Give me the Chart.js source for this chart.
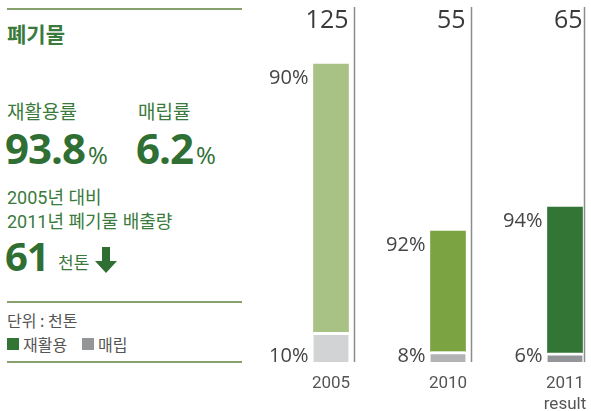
<!DOCTYPE html>
<html>
<head>
<meta charset="utf-8">
<script src="https://cdn.jsdelivr.net/npm/chart.js@4.4.0/dist/chart.umd.min.js"></script>
<style>
  body { margin: 0; width: 591px; height: 411px; background: #fff; position: relative; overflow: hidden;
         font-family: Roboto, "Noto Sans CJK KR", sans-serif; }
  .abs { position: absolute; white-space: nowrap; }
  .rule { position: absolute; left: 7px; width: 235px; height: 2px; background: #86a06e; }
  .kr { font-family: "Noto Sans CJK KR", sans-serif; }
  .green { color: #3a7a3c; }
  .big { font-family: "Open Sans", sans-serif; font-weight: 700; font-size: 42px; line-height: 42px; color: #2f6f34; letter-spacing: -1px; }
  .big span { font-weight: 400; font-size: 24px; letter-spacing: 0; margin-left: 3px; }
  #wrap { position: absolute; left: 240px; top: 0; width: 351px; height: 411px; }
</style>
</head>
<body>
<div class="rule" style="top:8px"></div>
<div class="abs kr green" style="left:7px;top:18px;font-size:21px;font-weight:700;">폐기물</div>
<div class="abs kr green" style="left:7px;top:100px;font-size:19px;line-height:22px;">재활용률</div>
<div class="abs kr green" style="left:138px;top:100px;font-size:19px;line-height:22px;">매립률</div>
<div class="abs big" style="left:5px;top:127px;">93.8<span>%</span></div>
<div class="abs big" style="left:136px;top:127px;">6.2<span>%</span></div>
<div class="abs green" style="left:7px;top:187px;font-size:18px;line-height:22px;">2005년 대비</div>
<div class="abs green" style="left:7px;top:211px;font-size:18px;line-height:22px;">2011년 폐기물 배출량</div>
<div class="abs big" style="left:5px;top:236px;font-size:40px;line-height:40px;">61</div>
<div class="abs kr green" style="left:58px;top:249px;font-size:17px;">천톤</div>
<svg class="abs" style="left:94px;top:247px" width="24" height="27" viewBox="0 0 24 27">
  <polygon points="8,0 16,0 16,14 23,14 12,26 1,14 8,14" fill="#2f6f34"/>
</svg>
<div class="rule" style="top:301px"></div>
<div class="abs kr" style="left:7px;top:308px;font-size:16px;color:#555;">단위 : 천톤</div>
<div class="abs" style="left:7px;top:338px;width:12px;height:12px;background:#337535;"></div>
<div class="abs kr" style="left:23px;top:332px;font-size:16px;color:#555;">재활용</div>
<div class="abs" style="left:82px;top:338px;width:12px;height:12px;background:#939598;"></div>
<div class="abs kr" style="left:98px;top:332px;font-size:16px;color:#555;">매립</div>
<div class="rule" style="top:361px"></div>

<div id="wrap"><canvas id="wasteChart" width="351" height="411"></canvas></div>

<script>
const years = ['2005', '2010', ['2011', 'result']];
const totals = [125, 55, 65];
const recyclePct = [90, 92, 94];
const landfillPct = [10, 8, 6];

const recycleColors = ['#a8c185', '#7ba342', '#337535'];
const landfillColors = ['#d1d3d4', '#b1b3b5', '#939598'];

const recycled = totals.map((t, i) => t * recyclePct[i] / 100);
const landfill = totals.map((t, i) => t * landfillPct[i] / 100);

// percent labels, totals and the thin separators
const labelsPlugin = {
  id: 'barLabels',
  afterDatasetsDraw(chart) {
    const ctx = chart.ctx;
    const top = chart.chartArea.top;
    const bottom = chart.chartArea.bottom;
    const metaLand = chart.getDatasetMeta(0);
    const metaRec = chart.getDatasetMeta(1);
    ctx.save();
    metaRec.data.forEach((bar, i) => {
      const left = bar.x - bar.width / 2;
      const right = bar.x + bar.width / 2;

      ctx.strokeStyle = '#8c8c8c';
      ctx.lineWidth = 1.5;
      ctx.beginPath();
      ctx.moveTo(right + (i === 2 ? 2 : 6), top);
      ctx.lineTo(right + (i === 2 ? 2 : 6), bottom);
      ctx.stroke();

      ctx.fillStyle = '#444';
      ctx.textAlign = 'right';
      ctx.textBaseline = 'alphabetic';
      ctx.font = '20px "Open Sans"';
      ctx.fillText(recyclePct[i] + '%', left - 5, bar.y + 20);
      ctx.fillText(landfillPct[i] + '%', left - 5, metaLand.data[i].base);

      ctx.fillStyle = '#3a3a3a';
      ctx.font = '25px "Open Sans"';
      ctx.fillText(String(totals[i]), right, top + 21);
    });
    ctx.restore();
  }
};

new Chart(document.getElementById('wasteChart'), {
  type: 'bar',
  data: {
    labels: years,
    datasets: [
      {
        label: '매립',
        data: landfill,
        backgroundColor: landfillColors,
        borderColor: '#fff',
        borderWidth: { top: 3, left: 0, right: 0, bottom: 0 },
        borderSkipped: false,
        barThickness: 35,
        clip: false
      },
      {
        label: '재활용',
        data: recycled,
        backgroundColor: recycleColors,
        borderWidth: 0,
        barThickness: 35,
        clip: false
      }
    ]
  },
  options: {
    responsive: false,
    animation: false,
    layout: { padding: { left: 91, right: 26, top: 7, bottom: 0 } },
    plugins: {
      legend: { display: false },
      tooltip: { enabled: false }
    },
    scales: {
      x: {
        stacked: true,
        offset: false,
        grid: { display: false, drawTicks: false },
        border: { display: false },
        afterFit(scale) {
          scale.height = 49;
          scale.paddingLeft = 0;
          scale.paddingRight = 0;
        },
        ticks: {
          color: '#555',
          font: { family: 'Roboto', size: 17, lineHeight: 1.2 },
          padding: 12,
          maxRotation: 0,
          autoSkip: false
        }
      },
      y: {
        stacked: true,
        display: false,
        min: 0,
        max: 149
      }
    }
  },
  plugins: [labelsPlugin]
});
</script>
</body>
</html>
